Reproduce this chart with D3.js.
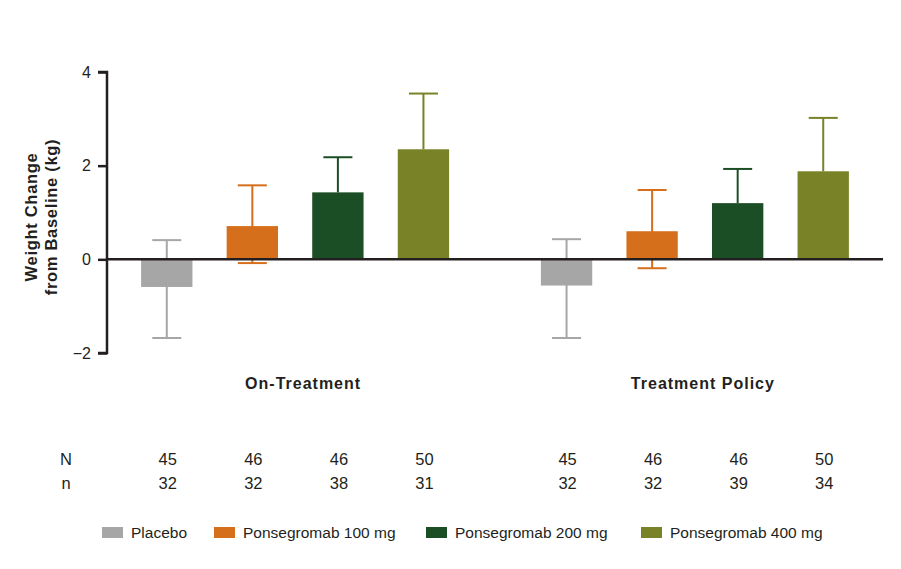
<!DOCTYPE html>
<meta charset="utf-8">
<style>
body { margin: 0; background: #fff; }
text { font-family: "Liberation Sans", Arial, sans-serif; fill: #231f20; }
</style>
<svg width="901" height="569"></svg>
<script src="https://d3js.org/d3.v7.min.js"></script>
<script>

// data
var groups = ["On-Treatment", "Treatment Policy"];
var arms = ["Placebo", "Ponsegromab 100 mg", "Ponsegromab 200 mg", "Ponsegromab 400 mg"];
var colors = ["#a6a6a6", "#d66f1c", "#1c4e26", "#798226"];
var meanOnTreatment = [-0.59, 0.71, 1.43, 2.35];
var lowOnTreatment = [-1.68, -0.08, 1.43, 2.35];
var highOnTreatment = [0.41, 1.58, 2.18, 3.54];
var meanPolicy = [-0.56, 0.60, 1.20, 1.88];
var lowPolicy = [-1.68, -0.19, 1.20, 1.88];
var highPolicy = [0.43, 1.48, 1.93, 3.02];
var bigN = [[45, 46, 46, 50], [45, 46, 46, 50]];
var smallN = [[32, 32, 38, 31], [32, 32, 39, 34]];
var yTicks = [-2, 0, 2, 4];

var svg = d3.select("svg");

var rows = [];
[[meanOnTreatment, lowOnTreatment, highOnTreatment], [meanPolicy, lowPolicy, highPolicy]].forEach(function(s, gi) {
  arms.forEach(function(a, i) {
    rows.push({group: groups[gi], arm: a, color: colors[i], mean: s[0][i], low: s[1][i], high: s[2][i],
               N: bigN[gi][i], n: smallN[gi][i]});
  });
});

// scales
var y = d3.scaleLinear().domain([-2, 4]).range([353, 72]);

var x0 = d3.scaleBand()
    .domain(groups)
    .range([124, 866])
    .paddingInner(0.144);

var x1 = d3.scaleBand()
    .domain(arms)
    .range([0, x0.bandwidth()])
    .paddingInner(0.4)
    .paddingOuter(0.2);

function cx(d) { return x0(d.group) + x1(d.arm) + x1.bandwidth() / 2; }

// bars
svg.append("g").selectAll("rect")
  .data(rows)
  .enter().append("rect")
    .attr("x", function(d) { return x0(d.group) + x1(d.arm); })
    .attr("width", x1.bandwidth())
    .attr("y", function(d) { return y(Math.max(0, d.mean)); })
    .attr("height", function(d) { return Math.abs(y(d.mean) - y(0)); })
    .attr("fill", function(d) { return d.color; });

// error bars
var err = svg.append("g").selectAll("g")
  .data(rows)
  .enter().append("g")
    .attr("stroke", function(d) { return d.color; })
    .attr("stroke-width", 2);

err.append("line")
    .attr("x1", cx).attr("x2", cx)
    .attr("y1", function(d) { return y(d.low); })
    .attr("y2", function(d) { return y(d.high); });

err.append("line")
    .attr("x1", function(d) { return cx(d) - 14.5; })
    .attr("x2", function(d) { return cx(d) + 14.5; })
    .attr("y1", function(d) { return y(d.high); })
    .attr("y2", function(d) { return y(d.high); });

err.filter(function(d) { return d.low < d.mean || d.mean < 0; }).append("line")
    .attr("x1", function(d) { return cx(d) - 14.5; })
    .attr("x2", function(d) { return cx(d) + 14.5; })
    .attr("y1", function(d) { return y(d.low); })
    .attr("y2", function(d) { return y(d.low); });

// zero line
svg.append("line")
    .attr("x1", 107).attr("x2", 883)
    .attr("y1", y(0)).attr("y2", y(0))
    .attr("stroke", "#231f20")
    .attr("stroke-width", 2.5);

// y axis
var yAxis = svg.append("g")
    .attr("transform", "translate(107,0)")
    .call(d3.axisLeft(y)
      .tickValues(yTicks)
      .tickSize(9)
      .tickPadding(7)
      .tickFormat(function(d) { return d < 0 ? "\u2212" + Math.abs(d) : d; }));

yAxis.select(".domain")
    .attr("stroke", "#231f20")
    .attr("stroke-width", 2.5)
    .attr("d", "M-9," + y(4) + "H0V" + y(-2) + "H-9");
yAxis.selectAll(".tick line").attr("stroke", "#231f20").attr("stroke-width", 2.5);
yAxis.selectAll(".tick text")
    .attr("font-size", 16)
    .attr("fill", "#231f20");

// y title
var yt = svg.append("text")
    .attr("transform", "translate(37,217) rotate(-90)")
    .attr("text-anchor", "middle")
    .attr("font-size", 16.5)
    .attr("letter-spacing", 0.7)
    .attr("font-weight", "bold");
yt.append("tspan").attr("x", 0).attr("dy", 0).text("Weight Change");
yt.append("tspan").attr("x", 0).attr("dy", 20).text("from Baseline (kg)");

// group labels
svg.append("g").selectAll("text")
  .data(groups)
  .enter().append("text")
    .attr("x", function(d) { return x0(d) + x0.bandwidth() / 2 + 8; })
    .attr("y", 389)
    .attr("text-anchor", "middle")
    .attr("font-size", 16)
    .attr("letter-spacing", 1)
    .attr("font-weight", "bold")
    .text(function(d) { return d; });

// N / n rows
svg.append("text").attr("x", 66).attr("y", 465).attr("text-anchor", "middle").attr("font-size", 16.5).text("N");
svg.append("text").attr("x", 66).attr("y", 489).attr("text-anchor", "middle").attr("font-size", 16.5).text("n");

svg.append("g").selectAll("text")
  .data(rows)
  .enter().append("text")
    .attr("x", function(d) { return cx(d) + 1; })
    .attr("y", 465)
    .attr("text-anchor", "middle")
    .attr("font-size", 16.5)
    .text(function(d) { return d.N; });

svg.append("g").selectAll("text")
  .data(rows)
  .enter().append("text")
    .attr("x", function(d) { return cx(d) + 1; })
    .attr("y", 489)
    .attr("text-anchor", "middle")
    .attr("font-size", 16.5)
    .text(function(d) { return d.n; });

// legend
var legendX = [102, 214, 426, 641];
var lg = svg.append("g").selectAll("g")
  .data(arms)
  .enter().append("g")
    .attr("transform", function(d, i) { return "translate(" + legendX[i] + ",527)"; });

lg.append("rect")
    .attr("width", 21)
    .attr("height", 11)
    .attr("fill", function(d, i) { return colors[i]; });

lg.append("text")
    .attr("x", 29)
    .attr("y", 11)
    .attr("font-size", 15.5)
    .text(function(d) { return d; });

</script>
